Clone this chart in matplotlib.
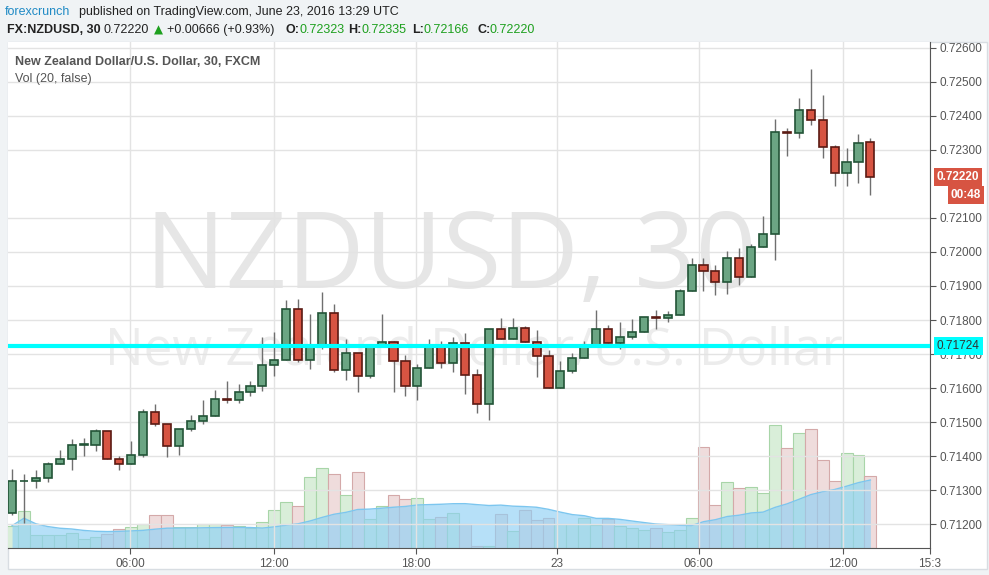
import matplotlib
matplotlib.use("Agg")
import matplotlib.pyplot as plt
from matplotlib.patches import Rectangle
import numpy as np
import pandas as pd

plt.rcParams['font.family'] = ['Liberation Sans', 'DejaVu Sans']

opens = [0.71233,0.71326,0.71327,0.71336,0.71377,0.71391,0.71433,0.71434,0.71474,0.71391,
         0.71377,0.71403,0.71530,0.71494,0.71430,0.71480,0.71503,0.71518,0.71568,0.71565,
         0.71588,0.71606,0.71668,0.71682,0.71832,0.71682,0.71721,0.71821,0.71653,0.71703,
         0.71635,0.71727,0.71735,0.71680,0.71606,0.71659,0.71727,0.71674,0.71732,0.71638,
         0.71553,0.71774,0.71744,0.71777,0.71735,0.71694,0.71600,0.71650,0.71688,0.71721,
         0.71774,0.71732,0.71750,0.71765,0.71809,0.71806,0.71815,0.71885,0.71962,0.71944,
         0.71912,0.71982,0.71926,0.72015,0.72053,0.72353,0.72350,0.72417,0.72388,0.72309,
         0.72232,0.72265,0.72323]
highs = [0.71362,0.71347,0.71359,0.71383,0.71418,0.71450,0.71453,0.71480,0.71474,0.71400,
         0.71444,0.71538,0.71553,0.71494,0.71480,0.71521,0.71565,0.71594,0.71621,0.71612,
         0.71621,0.71750,0.71765,0.71859,0.71862,0.71818,0.71882,0.71847,0.71744,0.71703,
         0.71727,0.71818,0.71738,0.71697,0.71671,0.71744,0.71738,0.71750,0.71762,0.71656,
         0.71774,0.71806,0.71806,0.71782,0.71771,0.71712,0.71680,0.71703,0.71738,0.71829,
         0.71785,0.71794,0.71803,0.71809,0.71829,0.71827,0.71891,0.71982,0.71982,0.71962,
         0.72003,0.72012,0.72024,0.72106,0.72391,0.72365,0.72453,0.72538,0.72462,0.72315,
         0.72306,0.72347,0.72335]
lows = [0.71227,0.71203,0.71306,0.71324,0.71377,0.71359,0.71400,0.71415,0.71391,0.71359,
        0.71377,0.71397,0.71488,0.71397,0.71403,0.71474,0.71494,0.71518,0.71556,0.71556,
        0.71577,0.71591,0.71635,0.71682,0.71677,0.71656,0.71715,0.71647,0.71624,0.71588,
        0.71630,0.71721,0.71588,0.71577,0.71565,0.71659,0.71659,0.71647,0.71583,0.71527,
        0.71506,0.71744,0.71744,0.71735,0.71632,0.71600,0.71600,0.71644,0.71688,0.71721,
        0.71732,0.71715,0.71744,0.71765,0.71774,0.71794,0.71815,0.71885,0.71885,0.71874,
        0.71877,0.71903,0.71926,0.72015,0.71976,0.72282,0.72335,0.72373,0.72276,0.72194,
        0.72194,0.72203,0.72166]
closes = [0.71327,0.71327,0.71336,0.71377,0.71391,0.71433,0.71434,0.71474,0.71391,0.71377,
          0.71403,0.71530,0.71494,0.71430,0.71480,0.71503,0.71518,0.71568,0.71565,0.71588,
          0.71606,0.71668,0.71682,0.71832,0.71682,0.71721,0.71821,0.71653,0.71703,0.71635,
          0.71727,0.71735,0.71680,0.71606,0.71659,0.71727,0.71674,0.71732,0.71638,0.71553,
          0.71774,0.71744,0.71777,0.71735,0.71694,0.71600,0.71650,0.71688,0.71721,0.71774,
          0.71732,0.71750,0.71765,0.71809,0.71806,0.71815,0.71885,0.71962,0.71944,0.71912,
          0.71982,0.71926,0.72015,0.72053,0.72353,0.72350,0.72417,0.72388,0.72309,0.72232,
          0.72265,0.72320,0.72220]
volumes = [68,113,40,40,40,46,28,32,43,58,64,73,100,100,63,64,73,73,70,66,
           61,79,115,140,127,217,243,224,160,232,88,127,160,148,151,88,94,106,73,7,
           7,103,52,115,85,91,73,73,91,70,88,67,61,55,61,49,55,91,307,130,
           200,184,187,166,373,304,349,361,268,205,289,284,220]

x_tick_pos = [9.9, 21.96, 33.9, 45.7, 57.6, 69.7, 77.0]
x_tick_labels = ["06:00", "12:00", "18:00", "23", "06:00", "12:00", "15:3"]
price_ticks = [0.7120, 0.7130, 0.7140, 0.7150, 0.7160, 0.7170, 0.7180, 0.7190,
               0.7200, 0.7210, 0.7230, 0.7240, 0.7250, 0.7260]
hline_price = 0.71724
last_price = 0.72220

W, H = 989, 575
fig = plt.figure(figsize=(W/100, H/100), dpi=100, facecolor='#f0f3f5')
fig.patches.append(Rectangle((8/W, 6/H), 979/W, (569-42)/H, transform=fig.transFigure,
                             fc='white', ec='#d8dde2', lw=1, zorder=-5))
rect = [8/W, 27/H, 922/W, 506/H]
axv = fig.add_axes(rect)
ax = fig.add_axes(rect)
axv.set_facecolor('white')
ax.set_facecolor('none')

n = len(opens)
xs = np.arange(n)
xlim = (-0.34, 77.0)
ylim = (0.71130, 0.72617)

vol = np.array(volumes, dtype=float)
up = np.array(closes) >= np.array(opens)
vcol = np.where(up, '#d9eed9', '#efdcdc')
vedge = np.where(up, '#a8d5a8', '#d4a9a9')
axv.bar(xs, vol, width=1.0, color=vcol, edgecolor=vedge, linewidth=0.8, zorder=2)
ma = pd.Series(vol).rolling(20, min_periods=1).mean().values
axv.fill_between(xs, 0, ma, color='#8fd0f5', alpha=0.65, zorder=3, linewidth=0)
axv.plot(xs, ma, color='#7cc6ef', lw=1, zorder=3)
axv.set_xlim(xlim)
axv.set_ylim(0, 1540)
axv.set_xticks([]); axv.set_yticks([])
for s in axv.spines.values():
    s.set_visible(False)
axv.text(0.48, 0.57, "NZDUSD, 30", transform=axv.transAxes, fontsize=77,
         color='#e6e6e6', ha='center', va='center', zorder=1, family='Open Sans')
axv.text(0.505, 0.39, "New Zealand Dollar/U.S. Dollar", transform=axv.transAxes,
         fontsize=37, color='#ececec', ha='center', va='center', zorder=1, family='Open Sans')

ax.set_xlim(xlim)
ax.set_ylim(ylim)
for p in price_ticks:
    ax.axhline(p, color='#e3e3e3', lw=1, zorder=0)
for t in x_tick_pos:
    ax.axvline(t, color='#e3e3e3', lw=1, zorder=0)

for i in range(n):
    o, h, l, c = opens[i], highs[i], lows[i], closes[i]
    isup = c >= o
    ax.vlines(i, l, h, color='#6f6f6f', lw=1, zorder=4)
    fc = '#6ba583' if isup else '#d75442'
    ec = '#225437' if isup else '#5b1a13'
    bot = min(o, c); ht = max(abs(c - o), 0.00002)
    ax.bar(i, ht, bottom=bot, width=0.68, color=fc, edgecolor=ec, linewidth=1.2, zorder=5)

ax.axhline(hline_price, color='#00ffff', lw=3, zorder=6)

ax.yaxis.tick_right()
ax.set_yticks(price_ticks)
ax.set_yticklabels([f"{p:.5f}" for p in price_ticks], fontsize=8.5, color='#555555')
ax.tick_params(axis='y', length=4, color='#555555', pad=3)
ax.set_xticks(x_tick_pos)
ax.set_xticklabels(x_tick_labels, fontsize=8.5, color='#555555')
ax.tick_params(axis='x', length=4, color='#555555', pad=3)
for s in ['top', 'left']:
    ax.spines[s].set_visible(False)
ax.spines['right'].set_color('#555555')
ax.spines['bottom'].set_color('#555555')

ax.annotate(f"{hline_price:.5f}", xy=(1.0, hline_price), xycoords=('axes fraction', 'data'),
            xytext=(5, 0), textcoords='offset points', va='center', ha='left', fontsize=8.5,
            color='#333333', bbox=dict(boxstyle='square,pad=0.25', fc='#00ffff', ec='none'), zorder=10,
            annotation_clip=False)
ax.annotate(f"{last_price:.5f}", xy=(1.0, last_price), xycoords=('axes fraction', 'data'),
            xytext=(5, 0), textcoords='offset points', va='center', ha='left', fontsize=8.5,
            color='white', fontweight='bold',
            bbox=dict(boxstyle='square,pad=0.25', fc='#d75442', ec='none'), zorder=10,
            annotation_clip=False)
ax.annotate("00:48", xy=(1.0, last_price), xycoords=('axes fraction', 'data'),
            xytext=(15, -13), textcoords='offset points', va='center', ha='left', fontsize=8.5,
            color='white', fontweight='bold',
            bbox=dict(boxstyle='square,pad=0.25', fc='#d75442', ec='none'), zorder=10,
            annotation_clip=False)

ax.text(7/922, 1 - 20/506, "New Zealand Dollar/U.S. Dollar, 30, FXCM", transform=ax.transAxes,
        fontsize=9, color='#555555', fontweight='bold', va='center')
ax.text(7/922, 1 - 37/506, "Vol (20, false)", transform=ax.transAxes,
        fontsize=9, color='#555555', va='center')

def ft(x, y, s, **kw):
    fig.text(x/W, 1 - y/H, s, va='center', ha='left', fontsize=9, **kw)
ft(5, 12, "forexcrunch", color='#1f8ac5')
ft(79, 12, "published on TradingView.com, June 23, 2016 13:29 UTC", color='#222222')
ft(7, 30, "FX:NZDUSD, 30", color='#222222', fontweight='bold')
ft(104, 30, "0.72220", color='#222222')
fig.text(158/W, 1 - 30/H, "\u25B2", va='center', ha='center', fontsize=8.5, color='#1ea01e', family='DejaVu Sans')
ft(167, 30, "+0.00666 (+0.93%)", color='#222222')
for lx, lab, vx, val in [(285, "O:", 299, "0.72323"), (348, "H:", 362, "0.72335"),
                         (412, "L:", 423, "0.72166"), (477, "C:", 489, "0.72220")]:
    ft(lx, 30, lab, color='#222222', fontweight='bold')
    ft(vx, 30, val, color='#1ea01e')

fig.savefig("out.png", dpi=100, facecolor=fig.get_facecolor())
